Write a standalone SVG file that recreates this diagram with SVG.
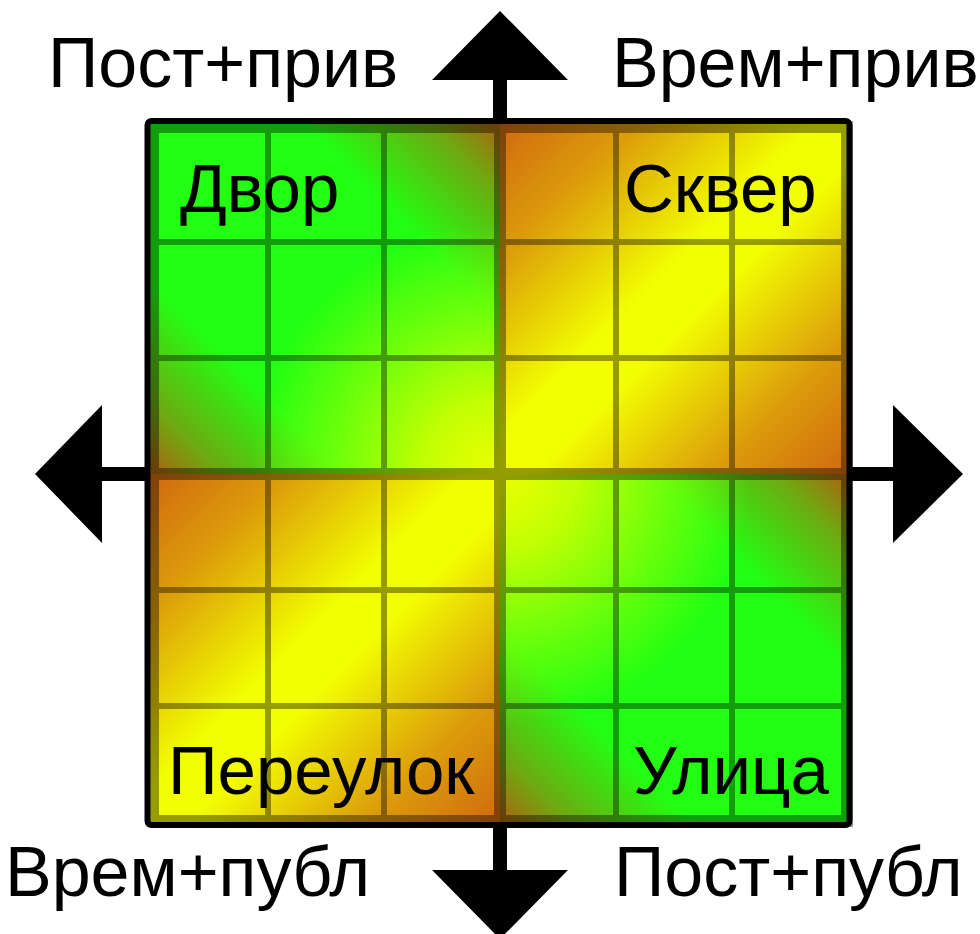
<svg xmlns="http://www.w3.org/2000/svg" width="980" height="934" viewBox="0 0 980 934">
<style>
.lbl{font-family:"Liberation Sans",Arial,"Noto Sans",sans-serif;font-size:69px;fill:#000}
.out{font-size:70px}
.thin{stroke:#000;stroke-width:6;fill:none}
.thick{stroke:#000;stroke-width:12;fill:none}
.ax{stroke:#000;stroke-width:14}
</style>
<defs>
<linearGradient id="gTL" gradientUnits="userSpaceOnUse" x1="500" y1="121" x2="148" y2="474">
<stop offset="0" stop-color="#b05e10" stop-opacity="1"/>
<stop offset="0.1" stop-color="#b05e10" stop-opacity="0.55"/>
<stop offset="0.28" stop-color="#b05e10" stop-opacity="0"/>
<stop offset="0.72" stop-color="#b05e10" stop-opacity="0"/>
<stop offset="0.9" stop-color="#b05e10" stop-opacity="0.55"/>
<stop offset="1" stop-color="#b05e10" stop-opacity="1"/>
</linearGradient>
<linearGradient id="gBR" gradientUnits="userSpaceOnUse" x1="850" y1="474" x2="500" y2="826">
<stop offset="0" stop-color="#b05e10" stop-opacity="1"/>
<stop offset="0.1" stop-color="#b05e10" stop-opacity="0.55"/>
<stop offset="0.28" stop-color="#b05e10" stop-opacity="0"/>
<stop offset="0.72" stop-color="#b05e10" stop-opacity="0"/>
<stop offset="0.9" stop-color="#b05e10" stop-opacity="0.55"/>
<stop offset="1" stop-color="#b05e10" stop-opacity="1"/>
</linearGradient>
<linearGradient id="gTR" gradientUnits="userSpaceOnUse" x1="500" y1="121" x2="850" y2="474">
<stop offset="0" stop-color="#d06810" stop-opacity="1"/>
<stop offset="0.2" stop-color="#d06810" stop-opacity="0.65"/>
<stop offset="0.45" stop-color="#d06810" stop-opacity="0"/>
<stop offset="0.55" stop-color="#d06810" stop-opacity="0"/>
<stop offset="0.8" stop-color="#d06810" stop-opacity="0.65"/>
<stop offset="1" stop-color="#d06810" stop-opacity="1"/>
</linearGradient>
<linearGradient id="gBL" gradientUnits="userSpaceOnUse" x1="148" y1="474" x2="500" y2="826">
<stop offset="0" stop-color="#d06810" stop-opacity="1"/>
<stop offset="0.2" stop-color="#d06810" stop-opacity="0.65"/>
<stop offset="0.45" stop-color="#d06810" stop-opacity="0"/>
<stop offset="0.55" stop-color="#d06810" stop-opacity="0"/>
<stop offset="0.8" stop-color="#d06810" stop-opacity="0.65"/>
<stop offset="1" stop-color="#d06810" stop-opacity="1"/>
</linearGradient>
<radialGradient id="gY" gradientUnits="userSpaceOnUse" cx="500" cy="474" r="250">
<stop offset="0" stop-color="#eeff00" stop-opacity="1"/>
<stop offset="0.3" stop-color="#e0ff00" stop-opacity="0.85"/>
<stop offset="1" stop-color="#d0ff00" stop-opacity="0"/>
</radialGradient>
</defs>

<g id="connectors">
<line class="ax" x1="500" y1="78" x2="500" y2="872"/>
<line class="ax" x1="100" y1="474" x2="895" y2="474"/>
<polygon points="500,11 432,80 568,80"/>
<polygon points="500,939 432,870 568,870"/>
<polygon points="35,474 102,405 102,543"/>
<polygon points="963,474 893,405 893,543"/>
</g>

<g id="square">
<rect x="148" y="121" width="352" height="353" fill="#22ff12"/>
<rect x="148" y="121" width="352" height="353" fill="url(#gTL)"/>
<rect x="148" y="121" width="352" height="353" fill="url(#gY)"/>
<rect x="500" y="474" width="350" height="352" fill="#22ff12"/>
<rect x="500" y="474" width="350" height="352" fill="url(#gBR)"/>
<rect x="500" y="474" width="350" height="352" fill="url(#gY)"/>
<rect x="500" y="121" width="350" height="353" fill="#f2ff00"/>
<rect x="500" y="121" width="350" height="353" fill="url(#gTR)"/>
<rect x="148" y="474" width="352" height="352" fill="#f2ff00"/>
<rect x="148" y="474" width="352" height="352" fill="url(#gBL)"/>
<g opacity="0.38">
<path class="thin" d="M268,126V822M384,126V822M616,126V822M732,126V822M152,242H848M152,358H848M152,590H848M152,706H848"/>
<path class="thick" d="M500,126V822M152,474H848"/>
<rect x="153" y="127" width="694" height="694" fill="none" stroke="#000" stroke-width="12"/>
</g>
<rect x="147.5" y="121" width="702" height="704" rx="4" fill="none" stroke="#000" stroke-width="6"/>
</g>

<g id="label-dvor"><text class="lbl" x="180" y="212">Двор</text></g>
<g id="label-skver"><text class="lbl" x="624" y="212">Сквер</text></g>
<g id="label-pereulok"><text class="lbl" x="168" y="794">Переулок</text></g>
<g id="label-ulitsa"><text class="lbl" x="633" y="794">Улица</text></g>
<g id="label-post-priv"><text class="lbl out" x="48" y="87">Пост+прив</text></g>
<g id="label-vrem-priv"><text class="lbl out" x="612" y="87">Врем+прив</text></g>
<g id="label-vrem-publ"><text class="lbl out" x="5" y="896">Врем+публ</text></g>
<g id="label-post-publ"><text class="lbl out" x="614" y="896">Пост+публ</text></g>
</svg>
